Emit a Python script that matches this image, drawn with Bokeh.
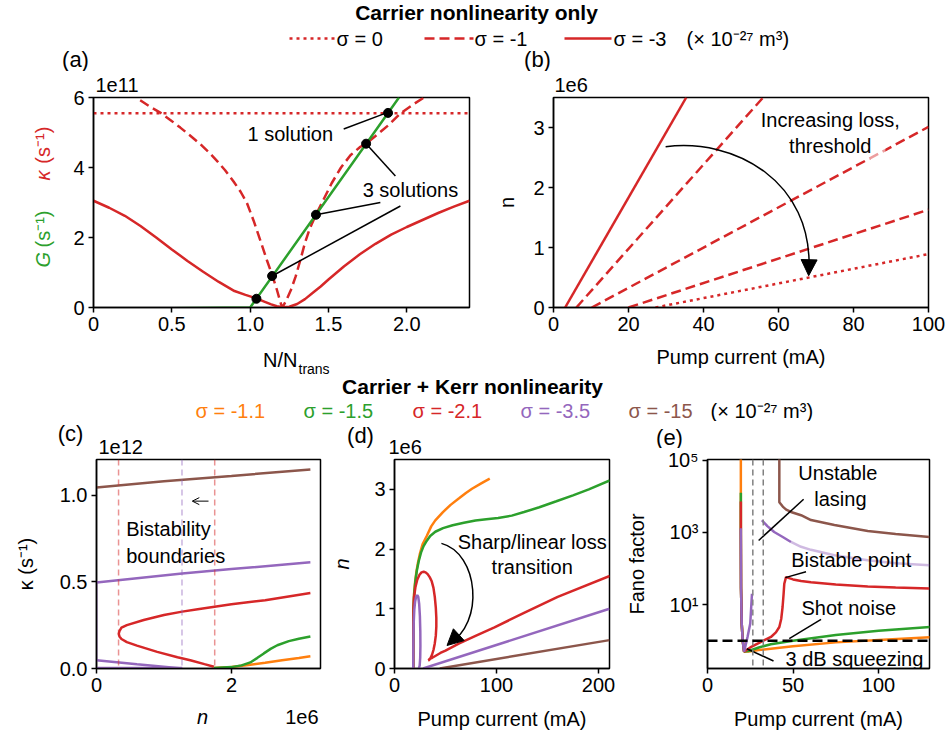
import numpy as np
from bokeh.plotting import figure
from bokeh.layouts import column, row
from bokeh.models import Range1d, FixedTicker, Span, Arrow, NormalHead, OpenHead, Title
from bokeh.core.properties import value
from bokeh.embed import file_html
from bokeh.resources import INLINE

FONT = "Liberation Sans"
RED = "#d62728"; GREEN = "#2ca02c"; ORANGE = "#ff7f0e"; PURPLE = "#9467bd"; BROWN = "#8c564b"

# ---------------- data: panel (a)  (y in units of 1e11 s^-1) ----------------
a_G_x = [0.0, 0.5, 1.0, 1.95]
a_G_y = [-0.02, -0.02, 0.0, 6.0]
a_s0_x = [0.0, 2.4]
a_s0_y = [5.55, 5.55]
a_s1_x = [0.298, 0.36, 0.426, 0.49, 0.554, 0.62, 0.681, 0.74, 0.788, 0.84, 0.894, 0.94, 0.98, 1.022,
          1.075, 1.107, 1.143, 1.171, 1.19, 1.198, 1.205, 1.213, 1.23, 1.26, 1.29, 1.32, 1.35, 1.38,
          1.42, 1.47, 1.52, 1.58, 1.64, 1.70, 1.74, 1.80, 1.88, 1.96, 2.04, 2.11]
a_s1_y = [5.92, 5.74, 5.57, 5.36, 5.14, 4.9, 4.67, 4.42, 4.19, 3.92, 3.6, 3.3, 2.98, 2.48,
          1.78, 1.35, 0.9, 0.5, 0.2, 0.08, 0.02, 0.06, 0.2, 0.5, 0.88, 1.35, 1.85, 2.25,
          2.65, 3.1, 3.55, 4.0, 4.35, 4.58, 4.68, 4.9, 5.2, 5.55, 5.8, 6.0]
a_s3_x = [0.0, 0.1, 0.2, 0.3, 0.4, 0.5, 0.6, 0.7, 0.8, 0.9, 0.97, 1.04, 1.09, 1.13, 1.17, 1.21,
          1.25, 1.3, 1.35, 1.4, 1.45, 1.5, 1.6, 1.7, 1.8, 1.9, 2.0, 2.1, 2.2, 2.3, 2.4]
a_s3_y = [3.05, 2.85, 2.62, 2.33, 2.0, 1.66, 1.33, 1.02, 0.73, 0.47, 0.36, 0.26, 0.17, 0.095, 0.035, 0.005,
          0.02, 0.1, 0.24, 0.42, 0.6, 0.8, 1.18, 1.52, 1.82, 2.08, 2.3, 2.5, 2.7, 2.88, 3.05]
a_dot_x = [1.04, 1.14, 1.42, 1.74, 1.88]
a_dot_y = [0.25, 0.90, 2.65, 4.68, 5.56]
a_ann_x0 = [1.597, 1.927, 1.831, 1.959]
a_ann_y0 = [5.10, 3.76, 3.00, 2.90]
a_ann_x1 = [1.87, 1.74, 1.42, 1.14]
a_ann_y1 = [5.56, 4.68, 2.65, 0.90]
a_txt_x = [1.256, 2.023]
a_txt_y = [4.97, 3.35]
a_txt = ["1 solution", "3 solutions"]

# ---------------- data: panel (b)  (y in units of 1e6) ----------------
b_solid_x = [3.1, 35.4];   b_solid_y = [0.0, 3.5]
b_dash1_x = [6.1, 55.9];   b_dash1_y = [0.0, 3.5]
b_dash2_x = [10.2, 100.0]; b_dash2_y = [0.0, 3.01]
b_dash3_x = [20.0, 100.0]; b_dash3_y = [0.0, 1.63]
b_dot_x = [27.2, 100.0];   b_dot_y = [0.0, 0.89]
b_arc = dict(x0=[29.9], y0=[2.68], cx0=[48.1], cy0=[2.83], cx1=[69.4], cy1=[2.11], x1=[68.1], y1=[0.60])
b_fade = dict(left=[60.5], right=[88.5], bottom=[2.47], top=[2.86])

# ---------------- data: panel (c)  (x in 1e6, y in 1e12) ----------------
c_brown_x = [0.0, 1.0, 2.0, 3.17];   c_brown_y = [1.044, 1.08, 1.11, 1.148]
c_pup_x = [0.0, 1.27, 2.0, 3.17];    c_pup_y = [0.496, 0.548, 0.573, 0.612]
c_pvert_x = [0.0, 0.0];              c_pvert_y = [0.496, 0.048]
c_plo_x = [0.0, 0.6, 1.27];          c_plo_y = [0.048, 0.025, 0.0]
c_pbase_x = [0.0, 1.27];             c_pbase_y = [0.003, 0.003]
c_red_x = [3.17, 2.5, 2.0, 1.5, 1.27, 1.0, 0.7, 0.45, 0.37, 0.34, 0.33, 0.34, 0.37, 0.45, 0.6, 0.9, 1.2, 1.39, 1.6, 1.74]
c_red_y = [0.435, 0.394, 0.37, 0.342, 0.328, 0.308, 0.28, 0.25, 0.235, 0.215, 0.2, 0.185, 0.17, 0.152, 0.132, 0.096, 0.065, 0.048, 0.025, 0.01]
c_green_x = [1.74, 2.0, 2.15, 2.28, 2.38, 2.48, 2.58, 2.68, 2.85, 3.0, 3.17]
c_green_y = [0.003, 0.008, 0.018, 0.035, 0.06, 0.087, 0.113, 0.134, 0.158, 0.172, 0.185]
c_orange_x = [1.74, 2.0, 2.25, 2.5, 2.75, 3.0, 3.17]
c_orange_y = [0.003, 0.008, 0.02, 0.033, 0.047, 0.06, 0.07]
c_red_bounds = [0.327, 1.752]
c_purple_bound = [1.267]

# ---------------- data: panel (d)  (y in 1e6) ----------------
d_orange_x = [18.4, 18.45, 18.6, 19.2, 20.2, 21.5, 23, 25, 27.5, 31.6, 36, 40, 47.5, 55, 63.3, 70, 76, 85, 93.4]
d_orange_y = [0, 0.5, 1.0, 1.25, 1.45, 1.62, 1.77, 1.93, 2.08, 2.22, 2.38, 2.48, 2.62, 2.74, 2.85, 2.94, 3.01, 3.1, 3.18]
d_green_x = [18.4, 18.45, 18.6, 19.3, 20.5, 22, 23.8, 26, 28.5, 31.7, 35, 40, 47.6, 57, 68, 79.4, 90,
             101.6, 115, 127, 142, 158.7, 175, 190.5, 211]
d_green_y = [0, 0.5, 1.0, 1.25, 1.47, 1.65, 1.8, 1.94, 2.05, 2.14, 2.22, 2.29, 2.35, 2.4, 2.44, 2.48, 2.5,
             2.52, 2.56, 2.62, 2.7, 2.8, 2.9, 3.0, 3.15]
d_red_x = [18.4, 18.45, 18.6, 19.2, 20.5, 22.2, 24.5, 26.5, 28.6, 30.5, 32.5, 34.5, 36.5, 38.2, 39.5, 40.5,
           41.0, 41.0, 40.5, 39.5, 38.2, 36.8, 35.2, 33.8, 33.3, 34.5, 37, 40, 45, 50, 63.5, 80, 98, 127, 160, 211]
d_red_y = [0, 0.5, 1.0, 1.2, 1.36, 1.48, 1.57, 1.61, 1.62, 1.61, 1.58, 1.53, 1.46, 1.35, 1.2, 1.02,
           0.85, 0.7, 0.55, 0.42, 0.31, 0.23, 0.17, 0.14, 0.14, 0.16, 0.18, 0.21, 0.26, 0.3, 0.42, 0.55, 0.69, 0.93, 1.2, 1.55]
d_purple_x = [18.4, 18.5, 18.8, 19.4, 20.2, 21.2, 22.3, 23.3, 24.2, 24.9, 25.3, 25.4, 25.2, 24.7, 23.9]
d_purple_y = [0, 0.4, 0.75, 0.98, 1.12, 1.2, 1.23, 1.2, 1.08, 0.88, 0.62, 0.38, 0.18, 0.05, 0.0]
d_purple2_x = [28.0, 210.8]; d_purple2_y = [0.0, 1.0]
d_brown_x = [44.4, 210.8];   d_brown_y = [0.0, 0.475]
d_arc = dict(x0=[46.0], y0=[2.095], cx0=[82.5], cy0=[1.93], cx1=[88.9], cy1=[0.754], x1=[53.0], y1=[0.41])

# ---------------- data: panel (e)  (Fano factor) ----------------
e_orange_x = [19.5, 19.5, 19.6, 20.0, 20.6, 21.4, 24.0, 30, 37, 50, 75, 100, 130]
e_orange_y = [3e5, 1000, 30, 3.0, 1.0, 0.5, 0.5, 0.55, 0.6, 0.7, 0.9, 1.05, 1.25]
e_green_x = [19.5, 19.5, 19.6, 20.0, 20.6, 21.4, 24.0, 30, 37, 50, 75, 100, 130]
e_green_y = [1.26e4, 1000, 30, 3, 1, 0.5, 0.52, 0.65, 0.8, 1.0, 1.45, 1.9, 2.4]
e_red_x = [19.5, 19.5, 19.6, 20.0, 20.6, 21.4, 25, 29.3, 33, 37.1, 40, 42, 43.1, 43.9, 44.5, 44.9, 45.9,
           50, 54.7, 60.5, 75, 93.7, 110, 129.8]
e_red_y = [7.2e3, 1000, 30, 3, 1, 0.5, 0.65, 0.83, 1.02, 1.27, 1.7, 2.4, 4.0, 8.6, 20, 38, 58,
           50, 45, 42, 36, 32, 30, 28]
e_purple_x = [19.5, 19.5, 19.6, 20.0, 20.6, 21.4, 23.4, 25.0, 26.0]
e_purple_y = [1300, 1000, 30, 3, 1, 0.5, 1.27, 3.0, 20]
e_pup_x = [31.8, 35, 39, 44, 48.8];  e_pup_y = [2180, 1500, 1030, 750, 545]
e_plight_x = [48.8, 54.7, 60.5, 74.2, 93.7, 110, 129.8]
e_plight_y = [545, 400, 330, 233, 170, 140, 123]
e_brown_x = [42, 42, 44, 46, 48.8, 54.7, 60.5, 74.2, 93.7, 110, 129.8]
e_brown_y = [3e5, 6.9e3, 5.2e3, 4.3e3, 3.7e3, 3.0e3, 2.2e3, 1.6e3, 1.1e3, 900, 750]
e_vlines = [26.5, 32.6]
e_shot = 1.0
e_ann_x0 = [56.2, 57.6, 66.4, 38.6]
e_ann_y0 = [8300, 81, 3.9, 0.275]
e_ann_x1 = [29.9, 45.5, 47.8, 23.0]
e_ann_y1 = [600, 56, 1.15, 0.6]
e_txt_x = [76.2, 77.7, 84.0, 82.6, 85.9]
e_txt_y = [4.5e4, 8.7e3, 170, 8.3, 0.32]
e_txt = ["Unstable", "lasing", "Bistable point", "Shot noise", "3 dB squeezing"]

# ---------------- legends / headings ----------------
title1 = "Carrier nonlinearity only"
title2 = "Carrier + Kerr nonlinearity"
leg1_labels = ["σ = 0", "σ = -1", "σ = -3"]
leg2_labels = ["σ = -1.1", "σ = -1.5", "σ = -2.1", "σ = -3.5", "σ = -15"]
leg2_colors = [ORANGE, GREEN, RED, PURPLE, BROWN]
unit_text = "(× 10⁻²⁷ m³)"

LW = 2.5
TXT = dict(text_font=value(FONT), text_font_size="20px", text_baseline="middle")


def blank_fig(w, h, yr=None, **kw):
    if yr is None:
        yr = Range1d(h, 0)           # y grows downwards, in pixels
    p = figure(width=w, height=h, x_range=Range1d(0, w), y_range=yr,
               output_backend="svg", toolbar_location=None,
               x_axis_location=None, y_axis_location=None, **kw)
    if not kw:
        p.min_border = 0
    p.grid.visible = False
    p.outline_line_color = None
    p.background_fill_color = "white"
    p.border_fill_color = "white"
    return p


def base_fig(w, h, xr, yr, bl, br, bt, bb, ylog=False):
    kw = dict(width=w, height=h, x_range=Range1d(*xr), y_range=Range1d(*yr),
              output_backend="svg", toolbar_location=None,
              min_border_left=bl, min_border_right=br, min_border_top=bt, min_border_bottom=bb)
    if ylog:
        kw["y_axis_type"] = "log"
    p = figure(**kw)
    p.grid.visible = False
    p.outline_line_color = "black"
    p.outline_line_width = 1.5
    p.background_fill_color = "white"
    p.border_fill_color = "white"
    for ax in p.axis:
        ax.axis_line_color = "black"
        ax.axis_line_width = 1.5
        ax.major_tick_out = 5
        ax.major_tick_in = 0
        ax.minor_tick_out = 0
        ax.minor_tick_in = 0
        ax.major_tick_line_width = 1.5
        ax.major_label_text_font = FONT
        ax.major_label_text_font_size = "20px"
        ax.major_label_text_color = "black"
        ax.major_label_standoff = 4
        ax.axis_label_text_font = FONT
        ax.axis_label_text_font_size = "20px"
        ax.axis_label_text_font_style = "normal"
        ax.axis_label_text_color = "black"
    return p


def ticks(axis, vals, labels):
    axis.ticker = FixedTicker(ticks=vals, minor_ticks=[])
    axis.major_label_overrides = dict(zip(vals, labels))


def offset_title(p, text, offset):
    p.add_layout(Title(text=text, align="left", offset=offset, standoff=9, vertical_align="middle",
                       text_font=FONT, text_font_size="20px", text_font_style="normal",
                       text_color="black"), "above")


# ================= header 1 (y 0..71) =================
h1 = blank_fig(948, 71)
h1.text([476], [12], text=[title1], text_font=value(FONT), text_font_size="21px",
        text_font_style="bold", text_align="center", text_baseline="middle")
h1.line([289, 334], [38, 38], line_color=RED, line_width=LW, line_dash="3 4")
h1.line([424, 473], [38, 38], line_color=RED, line_width=LW, line_dash="10 5")
h1.line([564, 611], [38, 38], line_color=RED, line_width=LW)
h1.text([336, 474, 613, 686], [38] * 4, text=leg1_labels + [unit_text], text_align="left", **TXT)
h1.text([75, 537], [59, 59], text=["(a)", "(b)"], text_font=value(FONT), text_font_size="22px",
        text_align="center", text_baseline="middle")

# ================= row 1 (y 71..375) =================
# gutter holding the two-colour y label of (a); same vertical scale as (a)
ga = blank_fig(55, 304, yr=Range1d(0, 6), min_border_left=0, min_border_right=0,
               min_border_top=26, min_border_bottom=68)
ga.text([42], [1.143], text=["G"], text_color=GREEN, text_font_style="italic", angle=np.pi / 2,
        text_align="left", **TXT)
ga.text([42], [1.714], text=["(s⁻¹)"], text_color=GREEN, angle=np.pi / 2, text_align="left", **TXT)
ga.text([42], [3.63], text=["κ"], text_color=RED, text_font_style="italic", angle=np.pi / 2,
        text_align="left", **TXT)
ga.text([42], [4.11], text=["(s⁻¹)"], text_color=RED, angle=np.pi / 2, text_align="left", **TXT)

# panel (a)
pa = base_fig(425, 272, (0, 2.4), (0, 6), 38, 11, 26, 36)
ticks(pa.xaxis, [0, 0.5, 1.0, 1.5, 2.0], ["0", "0.5", "1.0", "1.5", "2.0"])
ticks(pa.yaxis, [0, 2, 4, 6], ["0", "2", "4", "6"])
offset_title(pa, "1e11", 2)
pa.line(a_s0_x, a_s0_y, line_color=RED, line_width=LW, line_dash="3 4")
pa.line(a_s1_x, a_s1_y, line_color=RED, line_width=LW, line_dash="10 5")
pa.line(a_s3_x, a_s3_y, line_color=RED, line_width=LW)
pa.line(a_G_x, a_G_y, line_color=GREEN, line_width=LW)
pa.segment(a_ann_x0, a_ann_y0, a_ann_x1, a_ann_y1, line_color="black", line_width=1.5)
pa.scatter(a_dot_x, a_dot_y, size=9, color="black")
pa.text(a_txt_x, a_txt_y, text=a_txt, text_align="center", **TXT)

# footer of (a): x label N/N_trans   (y = image_y - 343, x = image_x - 55)
fa = blank_fig(425, 32)
fa.text([242], [16.5], text=["N/N"], text_align="right", **TXT)
fa.text([243], [25], text=["trans"], text_font=value(FONT), text_font_size="14px",
        text_align="left", text_baseline="middle")

# panel (b)
pb = base_fig(468, 304, (0, 100), (0, 3.5), 73, 20, 26, 68)
ticks(pb.xaxis, [0, 20, 40, 60, 80, 100], ["0", "20", "40", "60", "80", "100"])
ticks(pb.yaxis, [0, 1, 2, 3], ["0", "1", "2", "3"])
offset_title(pb, "1e6", 1)
pb.xaxis.axis_label = "Pump current (mA)"
pb.xaxis.axis_label_standoff = 12
pb.yaxis.axis_label = "n"
pb.yaxis.axis_label_standoff = 12
pb.line(b_solid_x, b_solid_y, line_color=RED, line_width=LW)
pb.line(b_dash1_x, b_dash1_y, line_color=RED, line_width=LW, line_dash="10 5")
pb.line(b_dash2_x, b_dash2_y, line_color=RED, line_width=LW, line_dash="10 5")
pb.line(b_dash3_x, b_dash3_y, line_color=RED, line_width=LW, line_dash="10 5")
pb.line(b_dot_x, b_dot_y, line_color=RED, line_width=LW, line_dash="3 4")
pb.quad(**b_fade, fill_color="white", fill_alpha=0.55, line_color=None)
pb.bezier(**b_arc, line_color="black", line_width=1.5)
pb.add_layout(Arrow(end=NormalHead(size=16, fill_color="black", line_color="black"),
                    x_start=b_arc["x1"][0], y_start=b_arc["y1"][0] + 0.05,
                    x_end=b_arc["x1"][0] - 0.05, y_end=b_arc["y1"][0] - 0.07,
                    line_color="black", line_width=1.5))
pb.text([73.8, 73.8], [3.12, 2.69], text=["Increasing loss,", "threshold"], text_align="center", **TXT)

# ================= header 2 (y 375..421) =================
h2 = blank_fig(948, 46)                       # y = image_y - 375
h2.text([472], [11], text=[title2], text_font=value(FONT), text_font_size="21px",
        text_font_style="bold", text_align="center", text_baseline="middle")
h2.text([195, 303, 412, 520, 628], [35] * 5, text=leg2_labels, text_color=leg2_colors,
        text_align="left", **TXT)
h2.text([710], [35], text=[unit_text], text_align="left", **TXT)

# ================= row 2 (y 421..738) =================
# (c)
hc = blank_fig(328, 37)                       # y = image_y - 421
hc.text([70], [12], text=["(c)"], text_font=value(FONT), text_font_size="22px",
        text_align="center", text_baseline="middle")
hc.text([98], [25.5], text=["1e12"], text_align="left", **TXT)

pc = base_fig(328, 247, (0, 3.32), (0, 1.205), 96, 8, 1, 37)
ticks(pc.xaxis, [0, 2], ["0", "2"])
ticks(pc.yaxis, [0, 0.5, 1.0], ["0.0", "0.5", "1.0"])
pc.yaxis.axis_label = "κ (s⁻¹)"
pc.yaxis.axis_label_standoff = 20
for xb in c_red_bounds:
    pc.add_layout(Span(location=xb, dimension="height", line_color=RED, line_alpha=0.5,
                       line_width=1.5, line_dash="6 4"))
for xb in c_purple_bound:
    pc.add_layout(Span(location=xb, dimension="height", line_color=PURPLE, line_alpha=0.5,
                       line_width=1.5, line_dash="6 4"))
pc.line(c_brown_x, c_brown_y, line_color=BROWN, line_width=LW)
pc.line(c_pvert_x, c_pvert_y, line_color=PURPLE, line_width=LW, line_alpha=0.5)
pc.line(c_pup_x, c_pup_y, line_color=PURPLE, line_width=LW)
pc.line(c_plo_x, c_plo_y, line_color=PURPLE, line_width=LW)
pc.line(c_pbase_x, c_pbase_y, line_color=PURPLE, line_width=LW)
pc.line(c_red_x, c_red_y, line_color=RED, line_width=LW)
pc.line(c_orange_x, c_orange_y, line_color=ORANGE, line_width=LW)
pc.line(c_green_x, c_green_y, line_color=GREEN, line_width=LW)
pc.text([0.44, 0.44], [0.804, 0.648], text=["Bistability", "boundaries"], text_align="left", **TXT)
pc.add_layout(Arrow(end=OpenHead(size=7, line_color="black", line_width=1),
                    x_start=1.66, y_start=0.965, x_end=1.42, y_end=0.965,
                    line_color="black", line_width=1))

fc = blank_fig(328, 33)                       # y = image_y - 705
fc.text([202], [11.5], text=["n"], text_font_style="italic", text_align="center", **TXT)
fc.text([318], [11.7], text=["1e6"], text_align="right", **TXT)

# (d)
hd = blank_fig(289, 37)                       # x = image_x - 328
hd.text([32], [14], text=["(d)"], text_font=value(FONT), text_font_size="22px",
        text_align="center", text_baseline="middle")
hd.text([60], [25.5], text=["1e6"], text_align="left", **TXT)

pd_ = base_fig(289, 280, (0, 210.8), (0, 3.5), 59, 8, 1, 70)
ticks(pd_.xaxis, [0, 100, 200], ["0", "100", "200"])
ticks(pd_.yaxis, [0, 1, 2, 3], ["0", "1", "2", "3"])
pd_.xaxis.axis_label = "Pump current (mA)"
pd_.xaxis.axis_label_standoff = 13
pd_.yaxis.axis_label = "n"
pd_.yaxis.axis_label_text_font_style = "italic"
pd_.yaxis.axis_label_standoff = 18
pd_.line(d_brown_x, d_brown_y, line_color=BROWN, line_width=LW)
pd_.line(d_purple2_x, d_purple2_y, line_color=PURPLE, line_width=LW)
pd_.line(d_orange_x, d_orange_y, line_color=ORANGE, line_width=LW)
pd_.line(d_green_x, d_green_y, line_color=GREEN, line_width=LW)
pd_.line(d_red_x, d_red_y, line_color=RED, line_width=LW)
pd_.line(d_purple_x, d_purple_y, line_color=PURPLE, line_width=LW)
pd_.bezier(**d_arc, line_color="black", line_width=1.5)
pd_.add_layout(Arrow(end=NormalHead(size=16, fill_color="black", line_color="black"),
                     x_start=d_arc["x1"][0] + 2.0, y_start=d_arc["y1"][0] + 0.03,
                     x_end=d_arc["x1"][0] - 1.5, y_end=d_arc["y1"][0] - 0.025,
                     line_color="black", line_width=1.5))
pd_.text([135, 135], [2.12, 1.70], text=["Sharp/linear loss", "transition"], text_align="center", **TXT)

# (e)
he = blank_fig(331, 27)                       # x = image_x - 617
he.text([52], [15.5], text=["(e)"], text_font=value(FONT), text_font_size="22px",
        text_align="center", text_baseline="middle")

pe = base_fig(331, 290, (0, 129.8), (0.17, 1.05e5), 90, 19, 11, 70, ylog=True)
ticks(pe.xaxis, [0, 50, 100], ["0", "50", "100"])
ticks(pe.yaxis, [10, 1000, 100000], ["10¹", "10³", "10⁵"])
pe.xaxis.axis_label = "Pump current (mA)"
pe.xaxis.axis_label_standoff = 13
pe.yaxis.axis_label = "Fano factor"
pe.yaxis.axis_label_standoff = 17
pe.line(e_orange_x, e_orange_y, line_color=ORANGE, line_width=LW)
pe.line(e_green_x, e_green_y, line_color=GREEN, line_width=LW)
pe.line(e_red_x, e_red_y, line_color=RED, line_width=LW)
pe.line(e_purple_x, e_purple_y, line_color=PURPLE, line_width=LW)
pe.line(e_pup_x, e_pup_y, line_color=PURPLE, line_width=LW)
pe.line(e_plight_x, e_plight_y, line_color=PURPLE, line_width=LW, line_alpha=0.45)
pe.line(e_brown_x, e_brown_y, line_color=BROWN, line_width=LW)
for xv in e_vlines:
    pe.add_layout(Span(location=xv, dimension="height", line_color="gray", line_width=1.5,
                       line_dash="6 4"))
pe.add_layout(Span(location=e_shot, dimension="width", line_color="black", line_width=2.5,
                   line_dash="10 5"))
pe.segment(e_ann_x0, e_ann_y0, e_ann_x1, e_ann_y1, line_color="black", line_width=1.5)
pe.text(e_txt_x, e_txt_y, text=e_txt, text_align="center", **TXT)

# helper text strips are wrapped in their own row so they are not frame-aligned with the plots
layout = column(h1,
                row(ga, column(pa, row(fa)), pb),
                h2,
                row(column(row(hc), pc, row(fc)), column(row(hd), pd_), column(row(he), pe)))
open("out.html", "w").write(file_html(layout, INLINE, title="Carrier nonlinearity"))
